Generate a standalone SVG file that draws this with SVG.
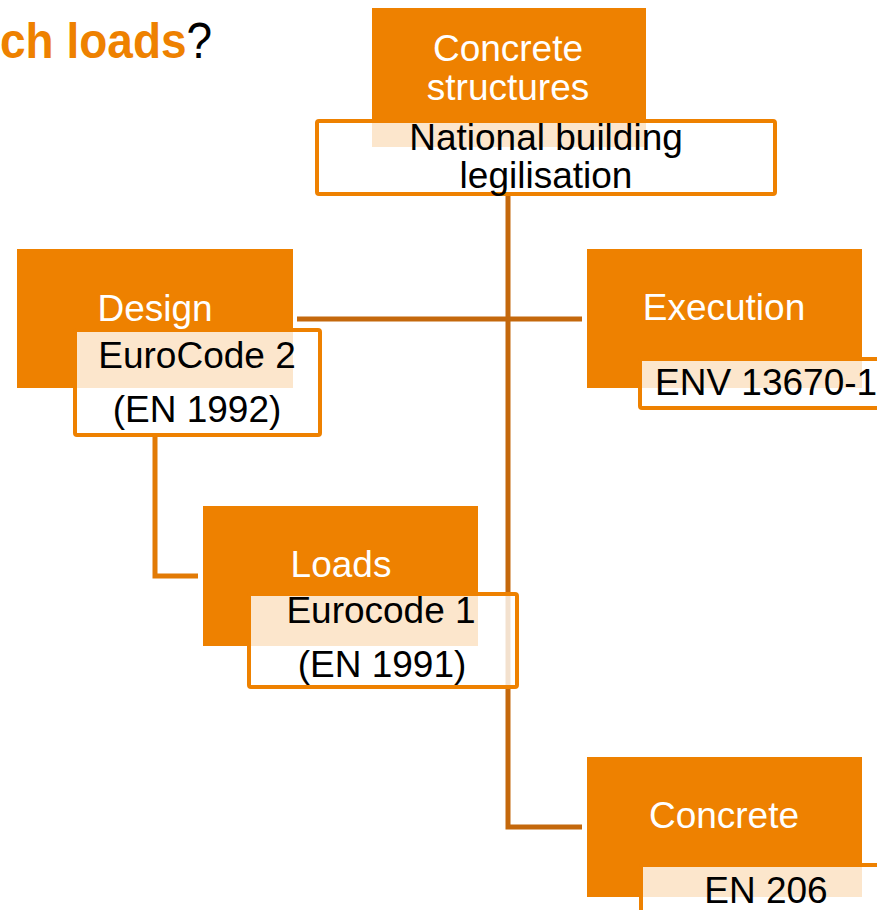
<svg xmlns="http://www.w3.org/2000/svg" width="877" height="910" viewBox="0 0 877 910">
  <style>
    .head { fill: #ee8100; }
    .sub { fill: #ffffff; fill-opacity: 0.8; stroke: #ee8100; stroke-width: 4; }
    .ht { font-family: "Liberation Sans", Arial, sans-serif; font-size: 37px; fill: #ffffff; text-anchor: middle; }
    .st { font-family: "Liberation Sans", Arial, sans-serif; font-size: 37px; fill: #000000; text-anchor: middle; }
    .start { text-anchor: start; }
    .link { fill: none; stroke: #c4680c; stroke-width: 5; }
    .link2 { fill: none; stroke: #e27a05; stroke-width: 5; }
  </style>
  <rect width="877" height="910" fill="#ffffff"/>

  <!-- title fragment -->
  <text transform="translate(0,58) scale(1,1.08)" font-family="'Liberation Sans', Arial, sans-serif" font-size="46"><tspan font-weight="bold" fill="#ee8100">ch loads</tspan><tspan fill="#000000">?</tspan></text>

  <!-- connectors -->
  <g id="connectors">
    <path class="link" d="M508,196 V827 H582"/>
    <path class="link" d="M297,319 H582"/>
    <path class="link2" d="M155,437 V576 H198"/>
  </g>

  <g id="node-structures">
    <rect class="head" x="372" y="8" width="274" height="139"/>
    <rect class="sub" x="317" y="121" width="458" height="73" rx="2"/>
    <text class="ht" x="508" y="61">Concrete</text>
    <text class="ht" x="508" y="100">structures</text>
    <text class="st" x="546" y="150">National building</text>
    <text class="st" x="546" y="188">legilisation</text>
  </g>

  <g id="node-design">
    <rect class="head" x="17" y="249" width="276" height="139"/>
    <rect class="sub" x="75" y="330" width="245" height="105" rx="2"/>
    <text class="ht" x="155" y="321">Design</text>
    <text class="st" x="197" y="368">EuroCode 2</text>
    <text class="st" x="197" y="422">(EN 1992)</text>
  </g>

  <g id="node-execution">
    <rect class="head" x="587" y="249" width="275" height="139"/>
    <rect class="sub" x="640" y="359" width="250" height="49" rx="2"/>
    <text class="ht" x="724" y="320">Execution</text>
    <text class="st start" x="655" y="395">ENV 13670-1</text>
  </g>

  <g id="node-loads">
    <rect class="head" x="203" y="506" width="275" height="140"/>
    <rect class="sub" x="249" y="594" width="268" height="93" rx="2"/>
    <text class="ht" x="341" y="577">Loads</text>
    <text class="st" x="381" y="623">Eurocode 1</text>
    <text class="st" x="382" y="677">(EN 1991)</text>
  </g>

  <g id="node-concrete">
    <rect class="head" x="587" y="757" width="275" height="140"/>
    <rect class="sub" x="641" y="865" width="250" height="60" rx="2"/>
    <text class="ht" x="724" y="828">Concrete</text>
    <text class="st" x="766" y="903">EN 206</text>
  </g>
</svg>
